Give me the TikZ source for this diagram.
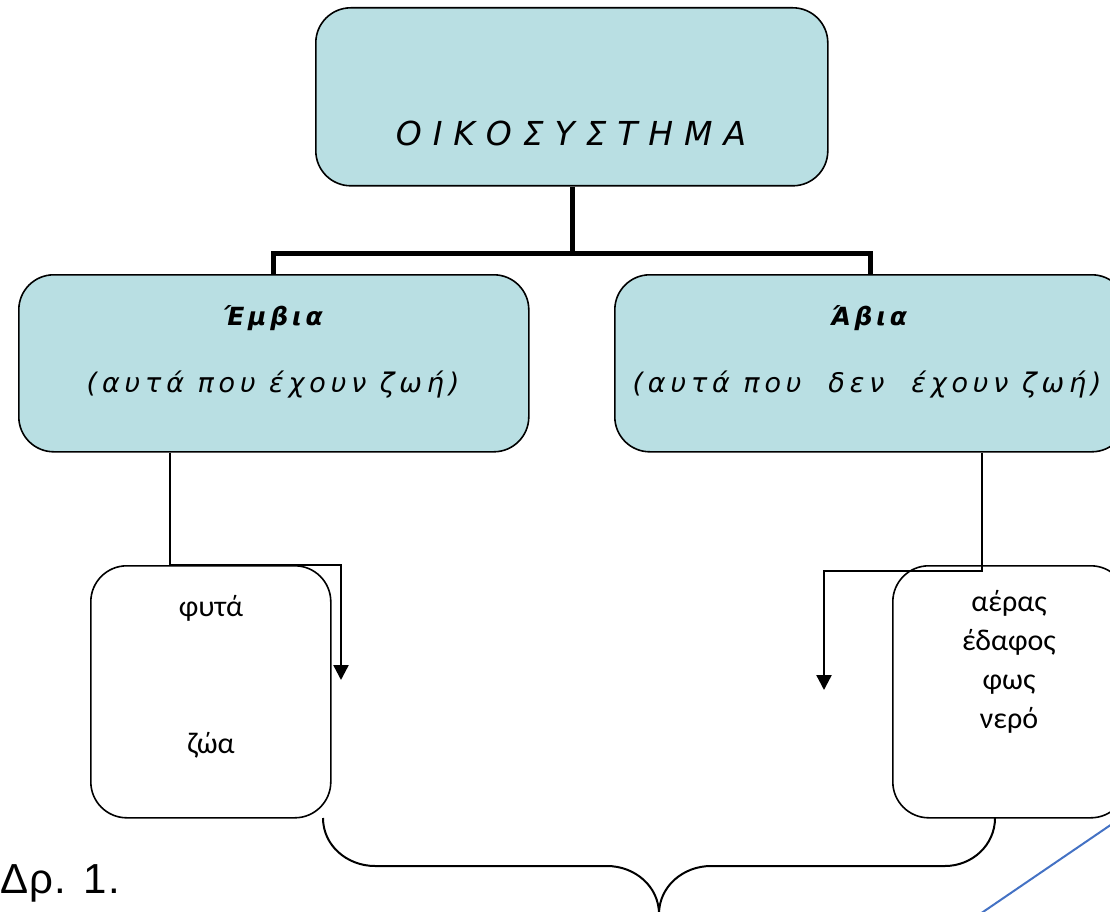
\documentclass[tikz,border=0pt]{standalone}
\usepackage{fontspec}
\setmainfont{DejaVu Sans}
\newfontfamily\boxfont[LetterSpace=18]{DejaVu Sans}
\newfontfamily\hdrfont[LetterSpace=15]{DejaVu Sans}
\newfontfamily\titlefont[LetterSpace=33]{DejaVu Sans}
\newfontfamily\itemfont{Carlito}
\newfontfamily\capfont[LetterSpace=3]{Liberation Sans}
\usetikzlibrary{arrows.meta}
\definecolor{boxblue}{RGB}{185,223,227}
\definecolor{lineblue}{RGB}{68,114,196}
\tikzset{
  bluebox/.style={draw=black, line width=1.6pt, fill=boxblue, rounded corners=35pt},
  whitebox/.style={draw=black, line width=1.6pt, fill=white, rounded corners=36pt},
  thickconn/.style={line width=5pt},
  arrowconn/.style={line width=2.4pt, -{Triangle[width=15pt,length=15pt]}},
  bracestyle/.style={line width=2pt},
  txt/.style={inner sep=0pt, font=\boxfont\itshape\fontsize{27}{32}\selectfont},
  hdr/.style={inner sep=0pt, font=\hdrfont\itshape\bfseries\fontsize{25}{30}\selectfont},
  ttl/.style={inner sep=0pt, font=\titlefont\itshape\fontsize{33}{40}\selectfont},
  item/.style={inner sep=0pt, font=\itemfont\fontsize{30}{39}\selectfont, align=center},
}
\begin{document}
\begin{tikzpicture}[x=1pt,y=-1pt]
\useasboundingbox (0,0) rectangle (1110,912);
% boxes
\node[bluebox, minimum width=512pt, minimum height=178pt, anchor=north west] (top) at (315,7) {};
\node[bluebox, minimum width=510pt, minimum height=177pt, anchor=north west] (emb) at (18,274) {};
\node[bluebox, minimum width=512pt, minimum height=177pt, anchor=north west] (abi) at (614,274) {};
\node[whitebox, minimum width=240pt, minimum height=252pt, anchor=north west] (liv) at (90,565) {};
\node[whitebox, minimum width=234pt, minimum height=252pt, anchor=north west] (non) at (892,565) {};
% texts
\node[ttl] (ttltxt) at (571,133) {ΟΙΚΟΣΥΣΤΗΜΑ};
\node[hdr] (embh) at (273,318) {Έμβια};
\node[txt] (embt) at (273,385) {(αυτά που έχουν ζωή)};
\node[hdr] (abih) at (869,318) {Άβια};
\node[txt] (abit) at (867,385) {(αυτά που \ δεν \ έχουν ζωή)};
\node[item] (futa) at (211,608) {φυτά};
\node[item] (zwa) at (211,745) {ζώα};
\node[item, anchor=north] (abilist) at (1009,590) {αέρας\\έδαφος\\φως\\νερό};
\node[font=\capfont\fontsize{42}{48}\selectfont, inner sep=0pt, anchor=base west] (fig) at (0,893) {Δρ. 1.};
% thick tree
\coordinate (j) at (572,253);
\draw[thickconn] (top.south -| j) -- (j);
\draw[thickconn] (emb.north -| 273,0) |- (j) -| (abi.north -| 870,0);
% thin connectors with arrows
\coordinate (la) at (170,565);
\coordinate (lb) at (341,680);
\draw[arrowconn] (emb.south -| la) -- (la) -| (lb);
\coordinate (ra) at (982,571);
\coordinate (rb) at (824,690);
\draw[arrowconn] (abi.south -| ra) -- (ra) -| (rb);
% brace
\coordinate (bl) at (323,818);
\coordinate (br) at (995,818);
\coordinate (bt) at (659,914);
\draw[bracestyle] (bl) to[out=-90,in=180] (375,866) -- (607,866) to[out=0,in=90] (bt);
\draw[bracestyle] (bt) to[out=90,in=180] (711,866) -- (945,866) to[out=0,in=-90] (br);
% blue line
\coordinate (ba) at (980,914);
\coordinate (bb) at (1112,824);
\draw[lineblue, line width=2pt] (ba) -- (bb);
\end{tikzpicture}
\end{document}
